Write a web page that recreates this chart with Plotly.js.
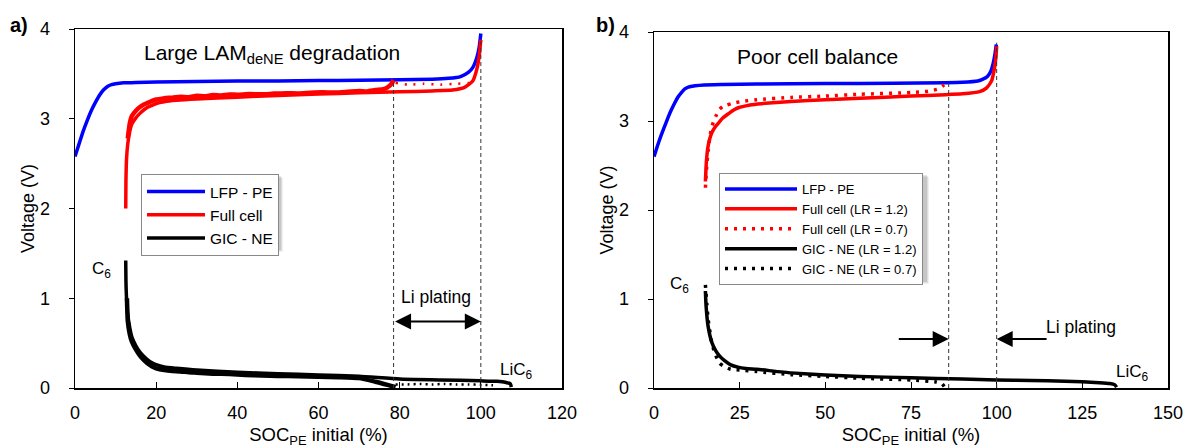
<!DOCTYPE html>
<html>
<head>
<meta charset="utf-8">
<script src="https://cdn.plot.ly/plotly-3.0.1.min.js"></script>
<style>html,body{margin:0;padding:0;background:#fff;}#chart{width:1187px;height:448px;}</style>
</head>
<body>
<div id="chart"></div>
<script>
// ---------- Panel a) Large LAM_deNE degradation ----------
const a_lfp_x = [0, 1, 2, 3, 4, 5, 6, 7, 8, 9, 10, 12, 15, 20, 30, 40, 50, 60, 70, 80, 88, 92, 95, 97, 98, 99, 99.6, 100];
const a_lfp_y = [2.58, 2.72, 2.86, 2.98, 3.09, 3.18, 3.26, 3.32, 3.36, 3.38, 3.39, 3.40, 3.405, 3.41, 3.415, 3.42, 3.42, 3.425, 3.43, 3.435, 3.44, 3.45, 3.47, 3.52, 3.57, 3.68, 3.80, 3.95];

const a_full_x = [12.5, 12.55, 12.7, 13, 13.5, 14, 15, 16, 17, 18, 19, 20, 22, 25, 30, 40, 50, 60, 70, 80, 88, 93, 96, 98, 99, 99.6, 100];
const a_full_y = [2.0, 2.3, 2.55, 2.72, 2.86, 2.94, 3.01, 3.06, 3.10, 3.13, 3.15, 3.17, 3.19, 3.205, 3.22, 3.24, 3.26, 3.275, 3.29, 3.30, 3.31, 3.32, 3.35, 3.42, 3.55, 3.70, 3.88];

const a_fullNoisy_x = [13, 13.5, 14, 15, 16, 17, 18, 19, 20, 21, 22, 24, 26, 28, 30, 32, 34, 36, 38, 40, 43, 46, 49, 52, 55, 58, 61, 64, 67, 70, 72, 74, 76, 77, 78, 78.5];
const a_fullNoisy_y = [2.78, 2.95, 3.03, 3.09, 3.13, 3.16, 3.18, 3.20, 3.215, 3.22, 3.23, 3.235, 3.245, 3.24, 3.255, 3.25, 3.265, 3.26, 3.27, 3.268, 3.275, 3.272, 3.28, 3.285, 3.282, 3.29, 3.295, 3.292, 3.30, 3.31, 3.305, 3.32, 3.33, 3.35, 3.39, 3.43];

const a_fullDots_x = [79, 82, 86, 90, 94, 97, 98.5];
const a_fullDots_y = [3.40, 3.38, 3.39, 3.38, 3.39, 3.40, 3.45];

const a_gic_x = [12.5, 12.55, 12.7, 13, 13.5, 14, 15, 16, 17, 18, 19, 20, 22, 25, 30, 40, 50, 60, 70, 80, 90, 100, 104, 106, 107.3, 107.5];
const a_gic_y = [1.42, 1.2, 1.0, 0.82, 0.67, 0.57, 0.47, 0.40, 0.35, 0.31, 0.28, 0.26, 0.235, 0.22, 0.20, 0.175, 0.16, 0.145, 0.13, 0.10, 0.09, 0.08, 0.075, 0.065, 0.045, 0.01];

const a_gicNoisy_x = [12.8, 13, 13.5, 14, 15, 16, 17, 18, 19, 20, 22, 24, 26, 28, 30, 34, 38, 42, 46, 50, 55, 60, 65, 70, 74, 77, 79];
const a_gicNoisy_y = [1.0, 0.75, 0.6, 0.52, 0.43, 0.36, 0.31, 0.27, 0.24, 0.22, 0.2, 0.19, 0.185, 0.175, 0.17, 0.16, 0.155, 0.145, 0.14, 0.135, 0.13, 0.125, 0.12, 0.11, 0.07, 0.035, 0.01];

const a_gicDots_x = [79, 82, 85, 88, 91, 94, 97, 100, 103];
const a_gicDots_y = [0.04, 0.04, 0.045, 0.04, 0.045, 0.04, 0.04, 0.035, 0.03];

const a_platingX = [78.5, 100];
const a_platingTop = [3.43, 3.9];
const a_arrowY = 0.74;

// ---------- Panel b) Poor cell balance ----------
const b_lfp_x = [0, 1, 2, 3, 4, 5, 6, 7, 8, 9, 10, 12, 14.6, 20, 30, 50, 70, 85, 90, 94.5, 96, 97.3, 98.3, 99, 99.5, 99.9];
const b_lfp_y = [2.60, 2.72, 2.83, 2.93, 3.03, 3.12, 3.20, 3.27, 3.32, 3.36, 3.38, 3.395, 3.405, 3.41, 3.415, 3.42, 3.425, 3.43, 3.435, 3.45, 3.47, 3.50, 3.56, 3.65, 3.75, 3.86];

const b_full12_x = [15, 15.3, 15.8, 16.9, 18, 19.1, 20, 21.3, 23.5, 25, 26.8, 28, 31.3, 40, 50, 60, 75, 85, 90, 95, 97, 98.5, 99.3, 99.8, 100];
const b_full12_y = [2.32, 2.55, 2.72, 2.87, 2.94, 2.99, 3.03, 3.07, 3.13, 3.155, 3.17, 3.18, 3.195, 3.22, 3.24, 3.255, 3.28, 3.295, 3.305, 3.33, 3.37, 3.45, 3.58, 3.72, 3.84];

const b_full07_x = [15, 15.4, 15.8, 16.3, 16.9, 18, 19.1, 20, 21.3, 23, 25.7, 30, 40, 50, 60, 75, 80, 83, 84.5, 86];
const b_full07_y = [2.25, 2.5, 2.66, 2.82, 2.94, 3.05, 3.13, 3.16, 3.18, 3.20, 3.22, 3.24, 3.265, 3.28, 3.30, 3.32, 3.335, 3.36, 3.40, 3.45];

const b_gic12_x = [15, 15.2, 15.8, 16.9, 18, 19.1, 20.5, 22.4, 24.5, 26.8, 30, 40, 50, 60, 75, 90, 100, 110, 120, 125, 130, 133, 134.5, 135];
const b_gic12_y = [1.09, 0.92, 0.69, 0.51, 0.42, 0.36, 0.31, 0.26, 0.235, 0.22, 0.21, 0.17, 0.145, 0.13, 0.115, 0.10, 0.09, 0.085, 0.075, 0.07, 0.06, 0.05, 0.035, 0.01];

const b_gic07_x = [15, 15.4, 15.8, 16.9, 18, 19.1, 20.5, 22.4, 25.7, 30, 40, 50, 60, 75, 82, 84, 85];
const b_gic07_y = [1.16, 0.95, 0.77, 0.50, 0.37, 0.28, 0.24, 0.21, 0.20, 0.185, 0.15, 0.13, 0.11, 0.09, 0.07, 0.05, 0.0];

const b_platingX = [86, 100];
const b_platingTop = [3.44, 3.88];
const b_arrowY = 0.55;
const b_arrowTails = [71, 115];

// ---------- Labels ----------
const legendA = ['LFP - PE', 'Full cell', 'GIC - NE'];
const legendB = ['LFP - PE', 'Full cell (LR = 1.2)', 'Full cell (LR = 0.7)', 'GIC - NE (LR = 1.2)', 'GIC - NE (LR = 0.7)'];
const xTitle = 'SOC<sub>PE</sub> initial (%)';
const yTitle = 'Voltage (V)';

const FONT = 'Liberation Sans, Arial, sans-serif';
const W = 1187, H = 448;
const BLUE = '#0000ff', RED = '#ff0000', BLACK = '#000000';

function line(x, y, color, width, dash, name, xa, ya, legend, show) {
  return {
    x: x, y: y, type: 'scatter', mode: 'lines', name: name || 'noise',
    xaxis: xa, yaxis: ya, legend: legend,
    showlegend: !!show,
    line: {color: color, width: width, dash: dash || 'solid', shape: 'spline', smoothing: 0.5},
    hoverinfo: 'x+y'
  };
}

const traces = [
  line(a_lfp_x, a_lfp_y, BLUE, 3.5, 'solid', legendA[0], 'x', 'y', 'legend', true),
  line(a_full_x, a_full_y, RED, 3.5, 'solid', legendA[1], 'x', 'y', 'legend', true),
  line(a_gic_x, a_gic_y, BLACK, 3.5, 'solid', legendA[2], 'x', 'y', 'legend', true),
  line(a_fullNoisy_x, a_fullNoisy_y, RED, 4.5, 'solid', '', 'x', 'y', 'legend', false),
  line(a_fullDots_x, a_fullDots_y, RED, 2.5, '2px,7px', '', 'x', 'y', 'legend', false),
  line(a_gicNoisy_x, a_gicNoisy_y, BLACK, 4.5, 'solid', '', 'x', 'y', 'legend', false),
  line(a_gicDots_x, a_gicDots_y, BLACK, 2.5, '2px,4px', '', 'x', 'y', 'legend', false),

  line(b_lfp_x, b_lfp_y, BLUE, 3.5, 'solid', legendB[0], 'x2', 'y2', 'legend2', true),
  line(b_full12_x, b_full12_y, RED, 3.5, 'solid', legendB[1], 'x2', 'y2', 'legend2', true),
  line(b_full07_x, b_full07_y, RED, 3.5, '3px,6px', legendB[2], 'x2', 'y2', 'legend2', true),
  line(b_gic12_x, b_gic12_y, BLACK, 3.5, 'solid', legendB[3], 'x2', 'y2', 'legend2', true),
  line(b_gic07_x, b_gic07_y, BLACK, 3.5, '3px,6px', legendB[4], 'x2', 'y2', 'legend2', true)
];

function xax(domain, range, dtick, anchor) {
  return {
    domain: domain, range: range, dtick: dtick, anchor: anchor,
    ticks: 'inside', ticklen: 6, tickwidth: 1, tickcolor: '#000',
    showline: true, mirror: true, linecolor: '#000', linewidth: 1.5,
    showgrid: false, zeroline: false, automargin: false,
    tickfont: {family: FONT, size: 18, color: '#000'},
    ticklabelstandoff: 8,
    title: {text: xTitle, font: {family: FONT, size: 18.5, color: '#000'}, standoff: 9}
  };
}
function yax(domain, anchor) {
  return {
    domain: domain, range: [0, 4], dtick: 1, anchor: anchor,
    ticks: 'outside', ticklen: 5, tickwidth: 1, tickcolor: '#000',
    showline: true, mirror: true, linecolor: '#000', linewidth: 1.5,
    showgrid: false, zeroline: false, automargin: false,
    tickfont: {family: FONT, size: 18, color: '#000'},
    ticklabelstandoff: 15,
    title: {text: yTitle, font: {family: FONT, size: 18, color: '#000'}, standoff: 0}
  };
}

const yBottom = 1 - 388 / H;

const shapes = [];
function vdash(xv, ytop, xr, yr) {
  shapes.push({type: 'line', xref: xr, yref: yr, x0: xv, x1: xv, y0: 0, y1: ytop,
    line: {color: '#333', width: 1, dash: '4px,3px'}, layer: 'above'});
}
a_platingX.forEach((v, i) => vdash(v, a_platingTop[i], 'x', 'y'));
b_platingX.forEach((v, i) => vdash(v, b_platingTop[i], 'x2', 'y2'));

// soft legend shadows
function shadow(x0, y0, x1, y1) {
  [[4, 0.06], [3, 0.08], [2, 0.1]].forEach(([o, a]) => {
    shapes.push({type: 'rect', xref: 'paper', yref: 'paper',
      x0: (x0 + o) / W, x1: (x1 + o) / W, y0: 1 - (y1 + o) / H, y1: 1 - (y0 + o) / H,
      line: {width: 0}, fillcolor: 'rgba(0,0,0,' + a + ')', layer: 'above'});
  });
}
shadow(141, 174, 279, 248);
shadow(719, 173, 925, 280);

function txt(text, x, y, xr, yr, size, extra) {
  return Object.assign({text: text, x: x, y: y, xref: xr, yref: yr, showarrow: false,
    font: {family: FONT, size: size, color: '#000'}, xanchor: 'center', yanchor: 'middle'}, extra || {});
}
const annotations = [
  txt('<b>a)</b>', 19 / W, 1 - 25 / H, 'paper', 'paper', 20),
  txt('<b>b)</b>', 606 / W, 1 - 25 / H, 'paper', 'paper', 20),
  txt('Large LAM<sub>deNE</sub> degradation', 48.5, 3.72, 'x', 'y', 21),
  txt('Poor cell balance', 47.6, 3.72, 'x2', 'y2', 21),
  txt('C<sub>6</sub>', 6.5, 1.32, 'x', 'y', 17),
  txt('LiC<sub>6</sub>', 108.7, 0.19, 'x', 'y', 17),
  txt('C<sub>6</sub>', 7.4, 1.16, 'x2', 'y2', 17),
  txt('LiC<sub>6</sub>', 139.5, 0.17, 'x2', 'y2', 17),
  txt('Li plating', 89, 1.01, 'x', 'y', 17.5),
  txt('Li plating', 124.6, 0.69, 'x2', 'y2', 17.5),
  {x: a_platingX[1], y: a_arrowY, ax: a_platingX[0], ay: a_arrowY, xref: 'x', yref: 'y', axref: 'x', ayref: 'y',
    text: '', showarrow: true, arrowhead: 2, startarrowhead: 2, arrowside: 'end+start', arrowsize: 1.6, startarrowsize: 1.6,
    arrowwidth: 2, arrowcolor: '#000', standoff: 0, startstandoff: 0},
  {x: b_platingX[0], y: b_arrowY, ax: b_arrowTails[0], ay: b_arrowY, xref: 'x2', yref: 'y2', axref: 'x2', ayref: 'y2',
    text: '', showarrow: true, arrowhead: 2, arrowsize: 1.6, arrowwidth: 2, arrowcolor: '#000', standoff: 0},
  {x: b_platingX[1], y: b_arrowY, ax: b_arrowTails[1], ay: b_arrowY, xref: 'x2', yref: 'y2', axref: 'x2', ayref: 'y2',
    text: '', showarrow: true, arrowhead: 2, arrowsize: 1.6, arrowwidth: 2, arrowcolor: '#000', standoff: 0}
];

const layout = {
  width: W, height: H,
  margin: {l: 0, r: 0, t: 0, b: 0},
  paper_bgcolor: '#fff', plot_bgcolor: '#fff',
  font: {family: FONT, color: '#000'},
  xaxis: xax([75 / W, 562 / W], [0, 120], 20, 'y'),
  yaxis: yax([yBottom, 1 - 29 / H], 'x'),
  xaxis2: xax([654 / W, 1168 / W], [0, 150], 25, 'y2'),
  yaxis2: yax([yBottom, 1 - 32 / H], 'x2'),
  legend: {x: 141 / W, y: 1 - 174 / H, xanchor: 'left', yanchor: 'top', bgcolor: '#fff',
    bordercolor: '#888', borderwidth: 1, font: {family: FONT, size: 15.5, color: '#000'}, itemwidth: 58,
    tracegroupgap: 0},
  legend2: {x: 719 / W, y: 1 - 173 / H, xanchor: 'left', yanchor: 'top', bgcolor: '#fff',
    bordercolor: '#888', borderwidth: 1, font: {family: FONT, size: 13, color: '#000'}, itemwidth: 72,
    tracegroupgap: 0},
  shapes: shapes,
  annotations: annotations,
  showlegend: true
};

Plotly.newPlot('chart', traces, layout, {displayModeBar: false, staticPlot: true});
</script>
</body>
</html>
